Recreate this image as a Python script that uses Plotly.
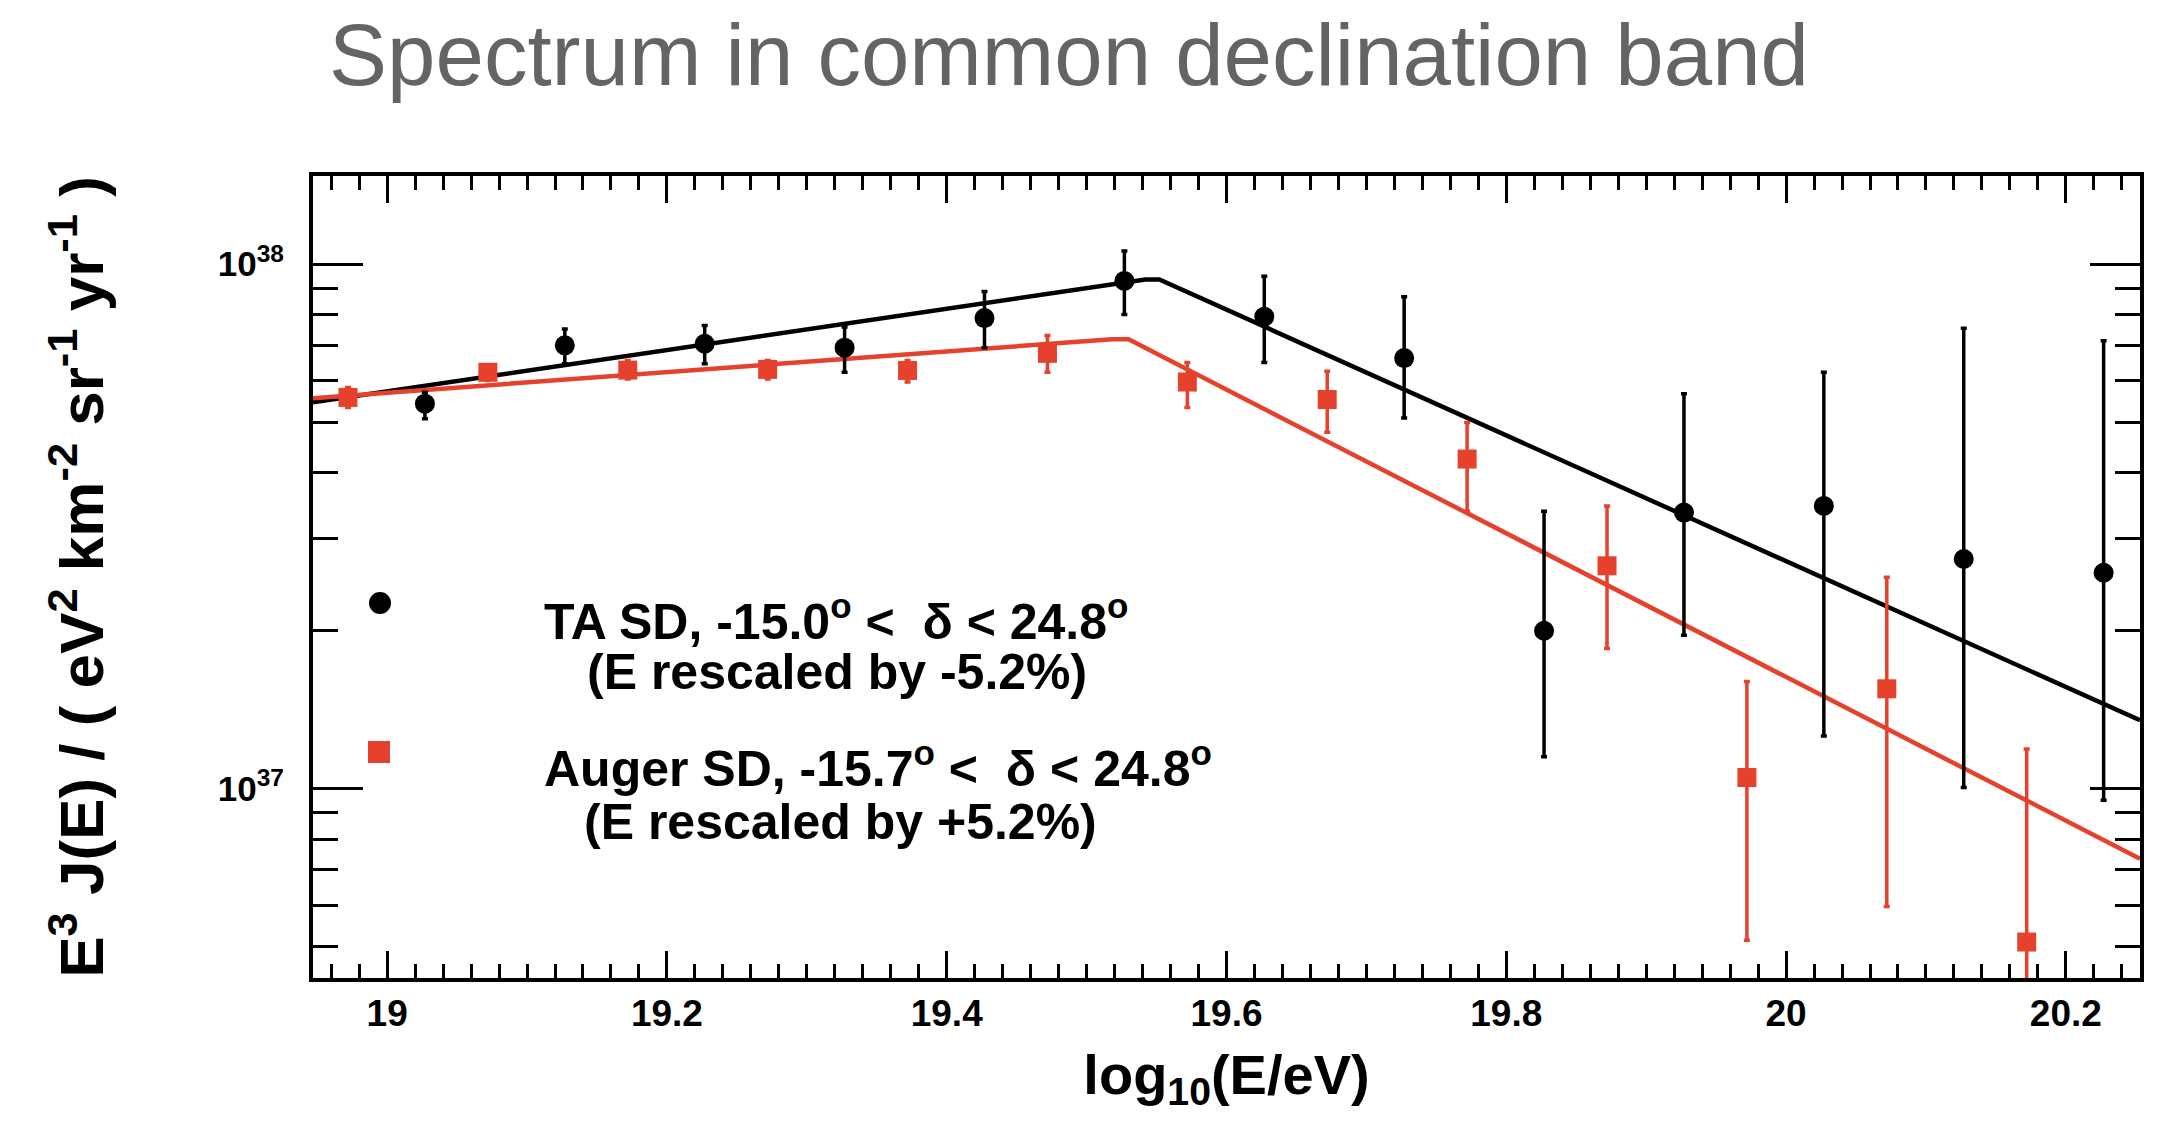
import plotly.graph_objects as go

# ---------------- data ----------------
# TA SD (energies rescaled by -5.2%)
ta_log_e = [19.027, 19.127, 19.227, 19.327, 19.427, 19.527, 19.627,
            19.727, 19.827, 19.927, 20.027, 20.127, 20.227]
ta_flux = [5.42e37, 7.00e37, 7.05e37, 6.93e37, 7.89e37, 9.29e37, 7.94e37,
           6.62e37, 2.00e37, 3.36e37, 3.46e37, 2.74e37, 2.58e37]
ta_upper = [5.70e37, 7.52e37, 7.64e37, 7.59e37, 8.87e37, 1.059e38, 9.48e37,
            8.67e37, 3.38e37, 5.66e37, 6.22e37, 7.55e37, 7.14e37]
ta_lower = [5.07e37, 6.46e37, 6.46e37, 6.22e37, 6.93e37, 8.02e37, 6.49e37,
            5.09e37, 1.15e37, 1.96e37, 1.26e37, 1.005e37, 9.5e36]

# Auger SD (energies rescaled by +5.2%)
au_log_e = [18.972, 19.072, 19.172, 19.272, 19.372, 19.472, 19.572,
            19.672, 19.772, 19.872, 19.972, 20.072, 20.172]
au_flux = [5.57e37, 6.22e37, 6.28e37, 6.30e37, 6.27e37, 6.76e37, 5.96e37,
           5.52e37, 4.25e37, 2.66e37, 1.05e37, 1.55e37, 5.1e36]
au_upper = [5.82e37, 6.41e37, 6.55e37, 6.55e37, 6.55e37, 7.31e37, 6.49e37,
            6.25e37, 4.99e37, 3.46e37, 1.60e37, 2.53e37, 1.19e37]
au_lower = [5.33e37, 6.00e37, 6.04e37, 6.04e37, 5.96e37, 6.22e37, 5.33e37,
            4.78e37, 3.38e37, 1.85e37, 5.14e36, 5.96e36, 3.0e36]

# broken power-law fits (vertices)
ta_fit_log_e = [18.947, 19.542, 19.552, 20.253]
ta_fit_flux = [5.45e37, 9.35e37, 9.35e37, 1.35e37]
au_fit_log_e = [18.947, 19.518, 19.530, 20.253]
au_fit_flux = [5.55e37, 7.19e37, 7.19e37, 7.35e36]

x_tick_vals = [19.0, 19.2, 19.4, 19.6, 19.8, 20.0, 20.2]
x_tick_text = ["19", "19.2", "19.4", "19.6", "19.8", "20", "20.2"]
y_tick_vals = [1e37, 1e38]
y_tick_text = ["10<sup>37</sup>", "10<sup>38</sup>"]
y_minor_vals = [5e36, 6e36, 7e36, 8e36, 9e36,
                2e37, 3e37, 4e37, 5e37, 6e37, 7e37, 8e37, 9e37]

title_text = "Spectrum in common declination band"
ta_label = ["TA SD, -15.0<sup>o</sup> <  δ < 24.8<sup>o</sup>",
            "(E rescaled by -5.2%)"]
au_label = ["Auger SD, -15.7<sup>o</sup> <  δ < 24.8<sup>o</sup>",
            "(E rescaled by +5.2%)"]

BLACK = "#000000"
RED = "#e5412d"
FONT = "Liberation Sans, Arial, Helvetica, sans-serif"

# ---------------- figure ----------------
W, H = 2177, 1134
L, R, T, B = 313, 2140, 176, 978


def px_x(v):
    return (v - L) / (R - L)


def px_y(v):
    return (B - v) / (B - T)


fig = go.Figure()

fig.add_trace(go.Scatter(x=ta_fit_log_e, y=ta_fit_flux, mode="lines",
                         line=dict(color=BLACK, width=4.5), showlegend=False,
                         hoverinfo="skip"))
fig.add_trace(go.Scatter(x=au_fit_log_e, y=au_fit_flux, mode="lines",
                         line=dict(color=RED, width=4.5), showlegend=False,
                         hoverinfo="skip"))

fig.add_trace(go.Scatter(
    x=ta_log_e, y=ta_flux, mode="markers", name="TA SD",
    marker=dict(symbol="circle", size=20, color=BLACK),
    error_y=dict(type="data", symmetric=False,
                 array=[u - v for u, v in zip(ta_upper, ta_flux)],
                 arrayminus=[v - d for v, d in zip(ta_flux, ta_lower)],
                 color=BLACK, thickness=3.5, width=3),
    showlegend=False))

fig.add_trace(go.Scatter(
    x=au_log_e, y=au_flux, mode="markers", name="Auger SD",
    marker=dict(symbol="square", size=19, color=RED),
    error_y=dict(type="data", symmetric=False,
                 array=[u - v for u, v in zip(au_upper, au_flux)],
                 arrayminus=[v - d for v, d in zip(au_flux, au_lower)],
                 color=RED, thickness=3.5, width=3),
    showlegend=False))

# legend keys
shapes = [
    dict(type="circle", xref="paper", yref="paper", xsizemode="pixel",
         ysizemode="pixel", xanchor=px_x(380), yanchor=px_y(603),
         x0=-11, x1=11, y0=-11, y1=11, fillcolor=BLACK, line_width=0),
    dict(type="rect", xref="paper", yref="paper", xsizemode="pixel",
         ysizemode="pixel", xanchor=px_x(379), yanchor=px_y(752),
         x0=-11, x1=11, y0=-11, y1=11, fillcolor=RED, line_width=0),
]

leg_font = dict(family=FONT, size=50, color=BLACK, weight="bold")
annotations = [
    dict(text=ta_label[0], x=px_x(542), y=px_y(618), xanchor="left"),
    dict(text=ta_label[1], x=px_x(837), y=px_y(672), xanchor="center"),
    dict(text=au_label[0], x=px_x(542), y=px_y(765), xanchor="left"),
    dict(text=au_label[1], x=px_x(840), y=px_y(822), xanchor="center"),
]
for a in annotations:
    a.update(xref="paper", yref="paper", yanchor="middle", showarrow=False,
             font=leg_font)

axis_common = dict(showgrid=False, zeroline=False, showline=True,
                   linecolor=BLACK, linewidth=4, mirror="allticks",
                   ticks="inside", tickcolor=BLACK, tickwidth=3)

fig.update_layout(
    width=W, height=H,
    margin=dict(l=L, r=W - R, t=T, b=H - B, pad=0),
    paper_bgcolor="white", plot_bgcolor="white",
    title=dict(text=title_text, x=1069 / W, xanchor="center",
               y=1 - 55 / H, yanchor="middle", yref="container",
               font=dict(family=FONT, size=87, color="#646464")),
    xaxis=dict(**axis_common, range=[18.947, 20.253],
               tickmode="array", tickvals=x_tick_vals, ticktext=x_tick_text,
               ticklen=27,
               minor=dict(dtick=0.02, tick0=19.0, ticks="inside", ticklen=14,
                          tickwidth=3, tickcolor=BLACK),
               tickfont=dict(family=FONT, size=37, color=BLACK, weight="bold"),
               title=dict(text="log<sub>10</sub>(E/eV)", standoff=22,
                          font=dict(family=FONT, size=56, color=BLACK,
                                    weight="bold"))),
    yaxis=dict(**axis_common, type="log", range=[36.639, 38.168],
               tickmode="array", tickvals=y_tick_vals, ticktext=y_tick_text,
               ticklen=50,
               minor=dict(tickmode="array", tickvals=y_minor_vals,
                          ticks="inside", ticklen=25, tickwidth=3,
                          tickcolor=BLACK),
               tickfont=dict(family=FONT, size=35, color=BLACK, weight="bold"),
               ticklabelstandoff=18,
               title=dict(text="E<sup>3</sup> J(E) / ( eV<sup>2</sup> km<sup>-2</sup> "
                               "sr<sup>-1</sup> yr<sup>-1</sup> )",
                          standoff=95,
                          font=dict(family=FONT, size=62, color=BLACK,
                                    weight="bold"))),
    shapes=shapes,
    annotations=annotations,
)

fig.write_html("out.html")
